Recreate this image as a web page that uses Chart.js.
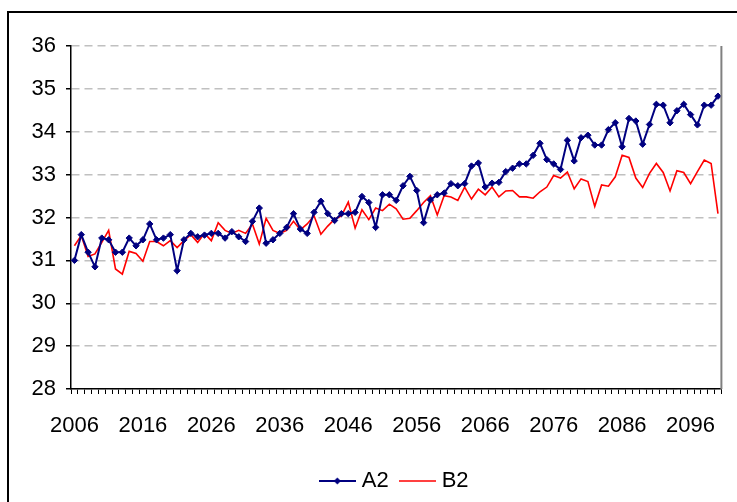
<!DOCTYPE html>
<html>
<head>
<meta charset="utf-8">
<script src="https://cdn.jsdelivr.net/npm/chart.js@4/dist/chart.umd.min.js"></script>
<style>
  html, body { margin: 0; padding: 0; background: #fff; overflow: hidden; }
  #wrap { width: 737px; height: 502px; position: relative; }
</style>
</head>
<body>
<div id="wrap"><canvas id="chart" width="737" height="502"></canvas></div>
<script>
// categories: one per year
const years = Array.from({ length: 95 }, (_, i) => 2006 + i);

const a2 = [
  31.00, 31.60, 31.19, 30.85, 31.52, 31.48, 31.19, 31.19, 31.52, 31.34,
  31.48, 31.85, 31.48, 31.52, 31.60, 30.76, 31.48, 31.63, 31.55, 31.59,
  31.63, 31.63, 31.52, 31.67, 31.55, 31.44, 31.91, 32.22, 31.40, 31.48,
  31.63, 31.77, 32.09, 31.73, 31.63, 32.12, 32.38, 32.09, 31.93, 32.09,
  32.09, 32.12, 32.49, 32.35, 31.77, 32.53, 32.53, 32.40, 32.74, 32.96,
  32.63, 31.88, 32.41, 32.53, 32.57, 32.79, 32.74, 32.79, 33.20, 33.27,
  32.71, 32.80, 32.82, 33.07, 33.15, 33.25, 33.25, 33.45, 33.73, 33.35,
  33.25, 33.12, 33.80, 33.32, 33.86, 33.92, 33.69, 33.69, 34.05, 34.21,
  33.65, 34.31, 34.25, 33.71, 34.17, 34.64, 34.62, 34.21, 34.49, 34.64,
  34.40, 34.16, 34.62, 34.62, 34.83
];

const b2 = [
  31.34, 31.58, 31.09, 31.15, 31.42, 31.70, 30.80, 30.68, 31.21, 31.16,
  30.98, 31.44, 31.44, 31.34, 31.46, 31.30, 31.46, 31.60, 31.42, 31.63,
  31.46, 31.88, 31.70, 31.63, 31.70, 31.63, 31.85, 31.38, 31.98, 31.70,
  31.63, 31.70, 31.91, 31.71, 31.85, 32.04, 31.61, 31.80, 31.96, 32.04,
  32.36, 31.75, 32.18, 31.95, 32.22, 32.16, 32.31, 32.20, 31.96, 31.98,
  32.16, 32.35, 32.51, 32.06, 32.51, 32.48, 32.40, 32.71, 32.43, 32.66,
  32.53, 32.71, 32.48, 32.62, 32.63, 32.48, 32.48, 32.45, 32.60, 32.71,
  32.98, 32.92, 33.06, 32.67, 32.90, 32.84, 32.26, 32.76, 32.73, 32.95,
  33.45, 33.40, 32.92, 32.70, 33.03, 33.26, 33.05, 32.62, 33.09, 33.05,
  32.79, 33.07, 33.34, 33.26, 32.09
];

const yMin = 28;
const yMax = 36;
const labelEvery = 10;

const NAVY = "#000080";
const RED = "#ff0000";
const FONT = 'Arial, "Liberation Sans", sans-serif';

// legend swatches: a short line, with the diamond marker for A2
function swatch(color, width, marker) {
  const c = document.createElement("canvas");
  c.width = 37;
  c.height = 10;
  const g = c.getContext("2d");
  g.strokeStyle = color;
  g.lineWidth = width;
  g.beginPath();
  g.moveTo(0, 5);
  g.lineTo(37, 5);
  g.stroke();
  if (marker) {
    g.fillStyle = color;
    g.beginPath();
    g.moveTo(18.5, 1.5);
    g.lineTo(22, 5);
    g.lineTo(18.5, 8.5);
    g.lineTo(15, 5);
    g.closePath();
    g.fill();
  }
  return c;
}
const swatches = [swatch(NAVY, 2, true), swatch(RED, 1.5, false)];

// outer chart border and plot area right edge
const frame = {
  id: "frame",
  afterDraw(chart) {
    const { ctx, chartArea } = chart;
    ctx.save();
    ctx.strokeStyle = "#000";
    ctx.lineWidth = 2;
    ctx.beginPath();
    ctx.moveTo(8, 502);
    ctx.lineTo(8, 12);
    ctx.lineTo(737, 12);
    ctx.stroke();
    ctx.strokeStyle = "#808080";
    ctx.lineWidth = 2;
    ctx.beginPath();
    ctx.moveTo(chartArea.right, chartArea.top);
    ctx.lineTo(chartArea.right, chartArea.bottom);
    ctx.stroke();
    ctx.restore();
  }
};

Chart.defaults.color = "#000";
Chart.defaults.font.family = FONT;

new Chart(document.getElementById("chart"), {
  type: "line",
  data: {
    labels: years,
    datasets: [
      {
        label: "A2",
        data: a2,
        borderColor: NAVY,
        backgroundColor: NAVY,
        borderWidth: 2,
        pointStyle: "rectRot",
        pointRadius: 3.2,
        pointBorderWidth: 1,
        tension: 0
      },
      {
        label: "B2",
        data: b2,
        borderColor: RED,
        backgroundColor: RED,
        borderWidth: 1.6,
        pointRadius: 0,
        tension: 0
      }
    ]
  },
  options: {
    responsive: false,
    animation: false,
    layout: { padding: { top: 46, left: 3, right: 5, bottom: 0 } },
    plugins: {
      tooltip: { enabled: false },
      legend: {
        position: "bottom",
        fullSize: false,
        labels: {
          font: { size: 22, family: FONT },
          usePointStyle: true,
          pointStyleWidth: 27,
          padding: 15,
          generateLabels(chart) {
            const items = Chart.defaults.plugins.legend.labels.generateLabels(chart);
            items.forEach((it, i) => { it.pointStyle = swatches[i]; });
            return items;
          }
        }
      }
    },
    scales: {
      x: {
        offset: true,
        afterFit(axis) { axis.height = 66; },
        grid: {
          offset: true,
          drawOnChartArea: false,
          drawTicks: true,
          tickLength: 5,
          tickColor: "#000",
          color: "#000"
        },
        border: { display: true, color: "#000", width: 1.5 },
        ticks: {
          autoSkip: false,
          maxRotation: 0,
          padding: 19,
          font: { size: 22, family: FONT },
          callback(v, i) { return i % labelEvery === 0 ? years[i] : ""; }
        }
      },
      y: {
        min: yMin,
        max: yMax,
        afterFit(axis) { axis.width = 68; },
        grid: {
          color: "#c0c0c0",
          lineWidth: 1.5,
          tickLength: 5,
          tickColor: "#000",
          tickBorderDash: []
        },
        border: { display: true, color: "#000", width: 1.5, dash: [8, 5] },
        ticks: {
          stepSize: 1,
          padding: 10,
          font: { size: 22, family: FONT }
        }
      }
    }
  },
  plugins: [frame]
});
</script>
</body>
</html>
